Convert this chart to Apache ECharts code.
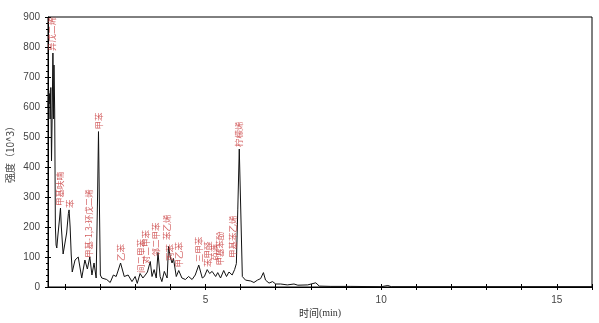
<!DOCTYPE html>
<html>
<head>
<meta charset="utf-8">
<script src="https://cdn.jsdelivr.net/npm/echarts@6/dist/echarts.min.js"></script>
<style>html,body{margin:0;padding:0;background:#fff}#c{width:599px;height:323px}</style>
</head>
<body>
<div id="c"></div>
<script>
// retention time (min)
const times = [0.52,0.54,0.55,0.57,0.58,0.60,0.62,0.64,0.66,0.68,0.69,0.71,0.73,0.75,0.77,0.80,0.85,0.875,0.90,0.95,1.00,1.05,1.10,1.12,1.15,1.18,1.21,1.23,1.29,1.38,1.48,1.57,1.64,1.71,1.77,1.83,1.89,1.93,1.957,1.98,2.01,2.05,2.19,2.29,2.38,2.46,2.585,2.69,2.80,2.91,3.00,3.06,3.14,3.22,3.29,3.35,3.43,3.48,3.54,3.60,3.65,3.71,3.76,3.83,3.91,3.95,4.00,4.05,4.09,4.17,4.24,4.33,4.43,4.52,4.62,4.71,4.81,4.91,4.97,5.05,5.12,5.19,5.29,5.35,5.43,5.52,5.60,5.67,5.76,5.83,5.88,5.92,5.963,6.00,6.05,6.14,6.29,6.38,6.48,6.57,6.65,6.71,6.81,6.91,7.00,7.14,7.33,7.52,7.63,7.91,8.14,8.24,8.57,9.14,10.0,10.19,10.29,12.0,14.0,16.0];
// intensity (10^3)
const intensities = [600,655,610,645,560,665,420,580,780,560,740,590,200,140,130,170,230,263,200,110,105,180,245,257,200,110,50,45,90,100,30,90,60,100,40,80,30,300,518,300,40,30,25,15,40,35,80,35,40,18,35,12,45,30,40,50,85,35,58,30,115,35,18,52,30,135,100,80,95,35,55,30,25,35,25,40,73,30,35,58,45,52,35,48,30,55,35,50,40,58,78,257,460,280,35,23,20,15,23,28,48,23,13,18,10,10,7,10,6,7,14,3,2,2,1,5,1,1,1,1];

// peak annotations
const peakNames = ["异戊二烯","甲基呋喃","苯","甲基-1,3-环戊二烯","甲苯","乙苯","间二甲苯","对二甲苯","邻二甲苯","苯乙烯","丙苯","甲乙苯","三甲苯","苯甲醛","茚满","甲基苯酚","甲基苯乙烯","柠檬烯"];
const peakTimes = [0.62,0.86,1.14,1.69,1.96,2.60,3.17,3.30,3.60,3.90,3.99,4.24,4.80,5.07,5.27,5.40,5.78,5.96];
const peakHeights = [780,263,257,90,518,80,40,70,95,150,80,58,76,60,80,65,90,460];

const yTicks = [0,100,200,300,400,500,600,700,800,900];
const xTickLabels = [5,10,15];
const xTickMarks = [1,2,3,4,5,6,7,8,9,10,11,12,13,14,15,16];

const chart = echarts.init(document.getElementById('c'), null, {renderer:'canvas'});
const lineData = times.map((t,i)=>[t,intensities[i]]);
const labelData = peakTimes.map((t,i)=>({value:[t,peakHeights[i]], name:peakNames[i]}));

const xBase = {type:'value', min:0.52, max:16, splitLine:{show:false}, gridIndex:0};
const yBase = {type:'value', min:0, max:900, interval:100, splitLine:{show:false}, gridIndex:0};

chart.setOption({
  animation:false,
  grid:{left:48, right:7, top:17, bottom:36, show:true, borderColor:'#000', borderWidth:1, backgroundColor:'transparent', containLabel:false, outerBoundsMode:'none'},
  xAxis:[
    Object.assign({}, xBase, {
      position:'bottom',
      axisLine:{show:true, onZero:false, lineStyle:{color:'#000', width:1}},
      axisTick:{show:true, inside:false, length:3, customValues:xTickMarks, lineStyle:{color:'#000'}},
      axisLabel:{show:true, customValues:xTickLabels, margin:8, fontSize:10, color:'#444', fontFamily:'Liberation Sans'},
      name:'{a|时间}{b|(min)}', nameLocation:'middle', nameGap:21, nameMoveOverlap:false,
      nameTextStyle:{rich:{a:{fontSize:10, fontFamily:'Noto Sans CJK SC', color:'#333'}, b:{fontSize:10, fontFamily:'Liberation Serif', color:'#333'}}}
    }),
    Object.assign({}, xBase, {
      position:'bottom',
      axisLine:{show:false},
      axisTick:{show:true, inside:true, length:3, customValues:xTickMarks, lineStyle:{color:'#000'}},
      axisLabel:{show:false}
    })
  ],
  yAxis:[
    Object.assign({}, yBase, {
      position:'left',
      axisLine:{show:true, onZero:false, lineStyle:{color:'#000', width:1}},
      axisTick:{show:true, inside:false, length:3, lineStyle:{color:'#000'}},
      minorTick:{show:true, splitNumber:5, length:2, lineStyle:{color:'#000'}},
      axisLabel:{show:true, margin:8, fontSize:10, color:'#444', fontFamily:'Liberation Sans', customValues:yTicks},
      name:'强度（10^3）', nameLocation:'middle', nameGap:33, nameRotate:90, nameMoveOverlap:false,
      nameTextStyle:{fontSize:10, fontFamily:'Noto Sans CJK SC', color:'#444'}
    }),
    Object.assign({}, yBase, {
      position:'left',
      axisLine:{show:false},
      axisTick:{show:true, inside:true, length:3, lineStyle:{color:'#000'}},
      minorTick:{show:false},
      axisLabel:{show:false}
    })
  ],
  series:[
    {type:'line', xAxisIndex:0, yAxisIndex:0, data:lineData, showSymbol:false, symbol:'none',
     lineStyle:{color:'#111', width:1}, z:3},
    {type:'scatter', xAxisIndex:0, yAxisIndex:0, data:labelData, symbolSize:0.01, z:5,
     label:{show:true, formatter:p=>p.name, position:'top', distance:2, rotate:90, align:'left', verticalAlign:'middle',
            fontSize:8.5, color:'#c8383a', fontFamily:'Noto Sans CJK SC'},
     labelLayout:{hideOverlap:false}}
  ]
});
</script>
</body>
</html>
